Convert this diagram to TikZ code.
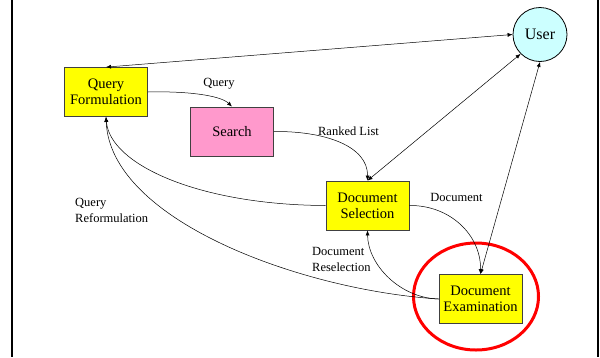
\documentclass[tikz,border=0pt]{standalone}
\usepackage{fontspec}
\setmainfont{Liberation Serif}
\usetikzlibrary{arrows.meta}
\definecolor{boxyellow}{RGB}{255,255,0}
\definecolor{boxpink}{RGB}{255,153,204}
\definecolor{usercyan}{RGB}{204,255,255}
\tikzset{
  stage/.style={draw=black!75,line width=0.8pt,minimum width=83pt,minimum height=49pt,
    align=center,inner sep=1pt,font=\fontsize{14.5}{16}\selectfont},
  flow/.style={line width=0.5pt,-{Latex[length=5pt,width=4pt]}},
  both/.style={line width=0.5pt,{Latex[length=5pt,width=4pt]}-{Latex[length=5pt,width=4pt]}},
  lbl/.style={align=left,inner sep=0pt,font=\fontsize{12.5}{16}\selectfont}
}
\begin{document}
\begin{tikzpicture}[x=1pt,y=-1pt]
        \useasboundingbox (0,0) rectangle (600,357);
        %% frame
        \draw[line width=2.5pt] (12,0) -- (12,357);
        \draw[line width=1.2pt] (598,0) -- (598,357);
        %% boxes
        \node[stage,fill=boxyellow] (QF) at (106,92) {Query\\Formulation};
        \node[stage,fill=boxpink] (S) at (232,131.5) {Search};
        \node[stage,fill=boxyellow] (DS) at (367.5,205.5) {Document\\Selection};
        \node[stage,fill=boxyellow] (DE) at (480.5,299) {Document\\Examination};
        \node[draw,circle,fill=usercyan,line width=0.8pt,minimum size=54pt,inner sep=0pt,
              font=\fontsize{16}{18}\selectfont] (U) at (540,34.5) {User};
        %% highlight
        \draw[red,line width=3pt] (476,296.5) ellipse (62.5 and 53.5);
        %% user links
        \draw[both] (QF.north) -- (U.west);
        \draw[both] (DS.north) -- (U.225);
        \draw[both] (DE.north) -- (U.south);
        %% forward flow
        \draw[flow] (QF.east) .. controls (185,91) and (220,95) .. (S.north);
        \draw[flow] (S.east) .. controls (325,131) and (368,146) .. (DS.north);
        \draw[flow] (DS.east) .. controls (450,205) and (481,235) .. (DE.north);
        %% feedback
        \draw[flow] (DE.west) .. controls (400,298) and (368,265) .. (DS.south);
        \draw[flow] (DS.west) .. controls (200,205) and (110,165) .. (QF.south);
        \draw[flow] (DE.west) .. controls (300,290) and (110,220) .. (QF.south);
        %% labels
        \node[lbl] (lq) at (219,84) {Query};
        \node[lbl] (lrl) at (348.5,131.5) {Ranked List};
        \node[lbl] (ld) at (456.5,197.5) {Document};
        \node[lbl,anchor=west] (ldr) at (312,259.5) {Document\\Reselection};
        \node[lbl,anchor=west] (lqr) at (75,210.5) {Query\\Reformulation};
\end{tikzpicture}
\end{document}
